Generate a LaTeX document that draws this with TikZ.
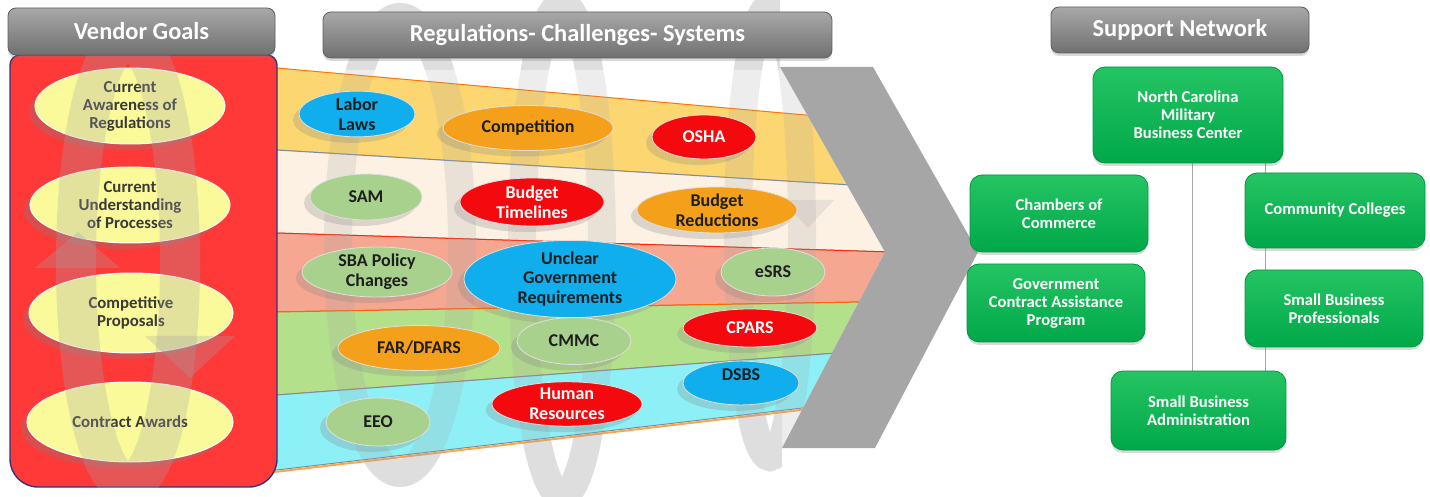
\documentclass[tikz,border=0pt]{standalone}
\usepackage{fontspec}
\setmainfont{Carlito}
\usetikzlibrary{shapes.geometric,shadows,backgrounds}
\definecolor{hdrtop}{HTML}{A8A8A8}
\definecolor{hdrbot}{HTML}{707070}
\definecolor{panelred}{HTML}{FF3838}
\definecolor{goalfill}{HTML}{FAFA9A}
\definecolor{goaltext}{HTML}{3A3A3A}
\definecolor{bandA}{HTML}{FCD670}
\definecolor{bandB}{HTML}{FCF1E3}
\definecolor{bandC}{HTML}{F5A791}
\definecolor{bandD}{HTML}{B3E08A}
\definecolor{bandE}{HTML}{8DF0F6}
\definecolor{cblue}{HTML}{10AEEC}
\definecolor{corange}{HTML}{F5A01A}
\definecolor{cred}{HTML}{F40A0E}
\definecolor{cgreen}{HTML}{A9D18E}
\definecolor{ctext}{HTML}{1E1E1E}
\definecolor{chevgray}{HTML}{A6A6A6}
\definecolor{nettop}{HTML}{25C463}
\definecolor{netbot}{HTML}{00A849}
\definecolor{coilgray}{HTML}{A4A4A4}
\definecolor{bandsep}{HTML}{7C8CA3}
\begin{document}
\begin{tikzpicture}[x=0.5pt,y=-0.5pt,
  hdr/.style={rounded corners=4pt, top color=hdrtop, bottom color=hdrbot, draw=hdrbot!85!black,
    line width=0.4pt, text=white, font=\bfseries\fontsize{12.2}{14}\selectfont, inner sep=0pt,
    drop shadow={shadow xshift=0pt, shadow yshift=-1.5pt, opacity=0.3}},
  goal/.style={ellipse, fill=goalfill, draw=white, line width=0.5pt, inner sep=0pt, align=center,
    text=goaltext, font=\bfseries\fontsize{8.4}{9}\selectfont,
    drop shadow={shadow xshift=-3pt, shadow yshift=-3pt, opacity=0.3}},
  chal/.style={ellipse, inner sep=0pt, align=center, text=ctext, draw=white!75!gray, line width=0.4pt,
    font=\bfseries\fontsize{9}{9.8}\selectfont,
    drop shadow={shadow xshift=-3pt, shadow yshift=-3pt, opacity=0.25}},
  blueC/.style={chal, fill=cblue},
  orangeC/.style={chal, fill=corange},
  redC/.style={chal, fill=cred, text=white},
  greenC/.style={chal, fill=cgreen},
  net/.style={rounded corners=6pt, top color=nettop, bottom color=netbot, draw=netbot!90!black,
    line width=0.4pt, text=white, font=\bfseries\fontsize{8.3}{9}\selectfont, align=center,
    inner sep=0pt, drop shadow={shadow xshift=0pt, shadow yshift=-1.5pt, opacity=0.3}},
  conn/.style={draw=chevgray, line width=0.5pt},
  coil/.style={draw=coilgray, opacity=0.2, line width=14pt},
  coilhead/.style={fill=coilgray, opacity=0.2},
  bandline/.style={line width=0.5pt}
]
\useasboundingbox (0,0) rectangle (1430,497);

% ---------- bands ----------
\begin{scope}
  \clip (270,0) -- (780,0) -- (780,67) -- (885,252) -- (782,448) -- (782,497) -- (270,497) -- cycle;
  \filldraw[fill=bandA, draw=orange!90!red, bandline] (270,67.4) -- (1000,132.3) -- (1000,194.1) -- (270,149.6) -- cycle;
  \filldraw[fill=bandB, draw=bandsep, bandline] (270,149.6) -- (1000,194.1) -- (1000,255.4) -- (270,232.8) -- cycle;
  \filldraw[fill=bandC, draw=red!70!orange, bandline] (270,232.8) -- (1000,255.4) -- (1000,299.7) -- (270,312.1) -- cycle;
  \filldraw[fill=bandD, draw=orange!80!red, bandline] (270,312.1) -- (1000,299.7) -- (1000,340.8) -- (270,395.5) -- cycle;
  \filldraw[fill=bandE, draw=bandsep, bandline] (270,395.5) -- (1000,340.8) -- (1000,384.7) -- (270,470.8) -- cycle;
  \draw[draw=orange!70, line width=1pt] (270,472.5) -- (1000,386.5);
  % translucent coil behind the challenge ovals
  \draw[coil] (400,245) ellipse [x radius=62, y radius=228];
  \draw[coil] (562,250) ellipse [x radius=40, y radius=245];
  \draw[coil] (770,232) ellipse [x radius=32, y radius=225];
  \fill[coilhead] (782,200) -- (834,200) -- (808,228) -- cycle;
\end{scope}
% coil parts over white background
\begin{scope}
  \clip (270,0) rectangle (780,70);
  \draw[coil] (400,245) ellipse [x radius=62, y radius=228];
  \draw[coil] (562,250) ellipse [x radius=40, y radius=245];
  \draw[coil] (770,232) ellipse [x radius=32, y radius=225];
\end{scope}
\begin{scope}
  \clip (270,497) -- (270,472) -- (782,410) -- (782,497) -- cycle;
  \draw[coil] (400,245) ellipse [x radius=62, y radius=228];
  \draw[coil] (562,250) ellipse [x radius=40, y radius=245];
  \draw[coil] (770,232) ellipse [x radius=32, y radius=225];
\end{scope}

% ---------- chevron ----------
\fill[chevgray] (780,67) -- (873,67) -- (978,252) -- (875,448) -- (782,448) -- (885,252) -- cycle;

% ---------- vendor panel ----------
\draw[fill=panelred, draw=black!50!blue!60!gray, line width=0.7pt]
  (10,270) [rounded corners=5pt] -- (10,55) -- (277,55) -- (277,270)
  [rounded corners=14pt] -- (277,487) -- (10,487) -- cycle;

\node[goal, minimum width=95pt, minimum height=38pt] (g1) at (130,106) {Current\\Awareness of\\Regulations};
\node[goal, minimum width=100pt, minimum height=38pt] (g2) at (130,205) {Current\\Understanding\\of Processes};
\node[goal, minimum width=102pt, minimum height=40pt] (g3) at (131,313) {Competitive\\Proposals};
\node[goal, minimum width=103pt, minimum height=40pt] (g4) at (130,422) {Contract Awards};

% translucent coil over the vendor panel
\begin{scope}
  \clip (10,55) rectangle (277,487);
  \draw[coil, opacity=0.28, line width=20pt] (128,262) ellipse [x radius=52, y radius=222];
  \fill[coilhead, opacity=0.28] (35,268) -- (120,268) -- (78,232) -- cycle;
  \fill[coilhead, opacity=0.28] (145,336) -- (235,336) -- (190,378) -- cycle;
\end{scope}

% ---------- challenges ----------
\node[blueC, minimum width=58pt, minimum height=19pt] (labor) at (357,114) {Labor\\Laws};
\node[orangeC, minimum width=85pt, minimum height=22.5pt] (comp) at (528,128) {Competition};
\node[redC, minimum width=52pt, minimum height=22pt] (osha) at (704,137) {OSHA};
\node[greenC, minimum width=56pt, minimum height=23pt] (sam) at (366,197) {SAM};
\node[redC, minimum width=72pt, minimum height=24pt] (btime) at (532,202) {Budget\\Timelines};
\node[orangeC, minimum width=80pt, minimum height=23pt] (bred) at (717,210) {Budget\\Reductions};
\node[greenC, minimum width=75pt, minimum height=25pt] (sbapol) at (377,272) {SBA Policy\\Changes};
\node[blueC, minimum width=106pt, minimum height=31pt] (unclear) at (570,279) {Unclear\\Government\\Requirements};
\node[greenC, minimum width=52pt, minimum height=24pt] (esrs) at (773,272) {eSRS};
\node[orangeC, minimum width=81pt, minimum height=22.5pt] (far) at (419,348) {FAR/DFARS};
\node[greenC, minimum width=57pt, minimum height=23.5pt] (cmmc) at (574,341) {CMMC};
\node[redC, minimum width=67pt, minimum height=19pt] (cpars) at (750,328) {CPARS};
\node[greenC, minimum width=52pt, minimum height=24pt] (eeo) at (378,422) {EEO};
\node[redC, minimum width=75pt, minimum height=21pt] (hr) at (567,404) {Human\\Resources};
\node[blueC, minimum width=58pt, minimum height=20pt, text height=6.5pt, text depth=9pt] (dsbs) at (741,383) {DSBS};

% ---------- headers ----------
\node[hdr, minimum width=133.5pt, minimum height=23.5pt] (hv) at (141.5,31.5) {Vendor Goals};
\node[hdr, minimum width=254.5pt, minimum height=23pt] (hreg) at (577.5,35) {Regulations- Challenges- Systems};
\node[hdr, minimum width=129pt, minimum height=23pt] (hsup) at (1180,30) {Support Network};

% ---------- support network ----------
\node[net, minimum width=95pt, minimum height=48pt] (nc) at (1188,115) {North Carolina\\Military\\Business Center};
\node[net, minimum width=89pt, minimum height=38.5pt] (coc) at (1059,213.5) {Chambers of\\Commerce};
\node[net, minimum width=90pt, minimum height=37.5pt] (cc) at (1335,210.5) {Community Colleges};
\node[net, minimum width=89pt, minimum height=39pt] (gcap) at (1056,303) {Government\\Contract Assistance\\Program};
\node[net, minimum width=89pt, minimum height=38.5pt] (sbp) at (1334,308.5) {Small Business\\Professionals};
\node[net, minimum width=87.5pt, minimum height=39.5pt] (sbad) at (1198.5,410.5) {Small Business\\Administration};
\coordinate (la) at (1192,0);
\coordinate (lb) at (1265,0);
\begin{scope}[on background layer]
  \draw[conn] (nc.south -| la) -- (sbad.north -| la);
  \draw[conn] (nc.south -| lb) -- (sbad.north -| lb);
\end{scope}
\end{tikzpicture}
\end{document}
